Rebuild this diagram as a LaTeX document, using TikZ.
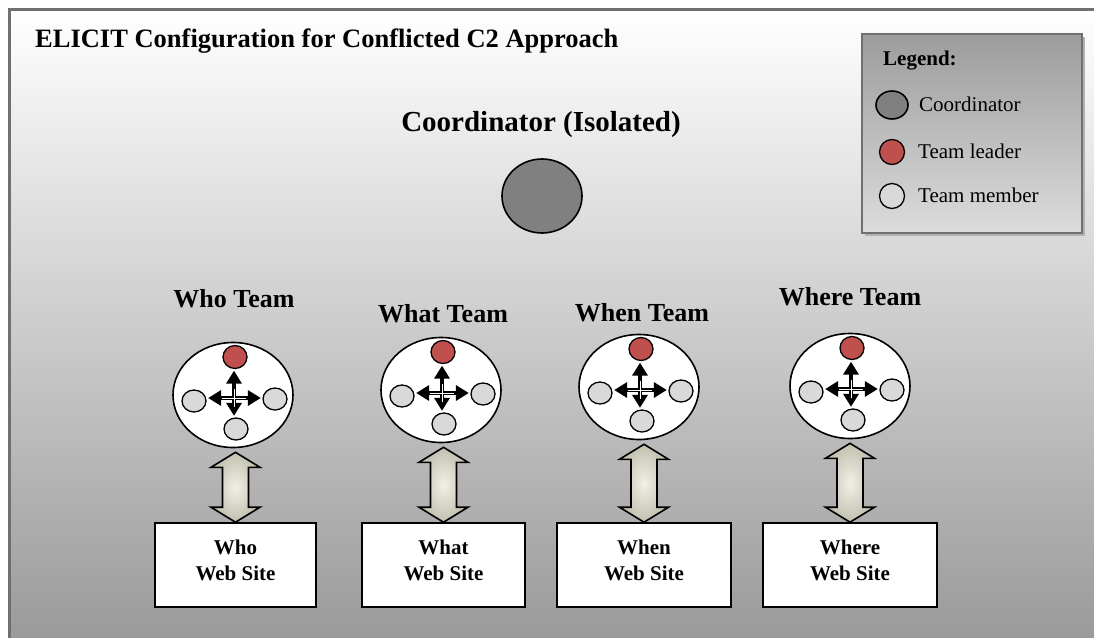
\documentclass[tikz,border=0pt]{standalone}
\usepackage{fontspec}
\setmainfont{Liberation Serif}
\usetikzlibrary{arrows.meta,calc,shapes.geometric,shadows}

\definecolor{framegray}{HTML}{707070}
\definecolor{coordgray}{HTML}{808080}
\definecolor{leaderred}{HTML}{C0504D}
\definecolor{membergray}{HTML}{D9D9D9}
\definecolor{arrowlight}{HTML}{F2F0E6}
\definecolor{arrowdark}{HTML}{C2C0B0}
\definecolor{bgbottom}{HTML}{999999}
\definecolor{legtop}{HTML}{9C9C9C}
\definecolor{legbottom}{HTML}{DCDCDC}

% one team: label, oval with leader and members, link arrow, web site box
% #1 name, #2 label, #3/#4 label x/baseline, #5/#6 oval centre, #7/#8 box left/right, #9 site
\newcommand\teamgroup[9]{%
  \node[teamlabel, anchor=base] (#1label) at (#3,#4) {#2};
  \node[teamoval] (#1oval) at (#5,#6) {};
  \node[leader] (#1lead) at ($(#1oval.center)+(2,-38)$) {};
  \node[member] (#1left) at ($(#1oval.center)+(-39,6)$) {};
  \node[member] (#1right) at ($(#1oval.center)+(42,4)$) {};
  \node[member] (#1bot) at ($(#1oval.center)+(3,34)$) {};
  \coordinate (#1hub) at ($(#1oval.center)+(1,3)$);
  \draw[crossarrow] (#1hub |- #1lead.south) -- (#1hub |- #1bot.north);
  \draw[crossarrow] (#1hub -| #1left.east) -- (#1hub -| #1right.west);
  \draw[crossgap] ($(#1hub)+(0,-9)$) -- ($(#1hub)+(0,9)$);
  \draw[crossgap] ($(#1hub)+(-12,0)$) -- ($(#1hub)+(12,0)$);
  \node[sitebox, minimum width={#8-#7}] (#1box) at ({(#7+#8)/2},565) {};
  \node[sitetext, anchor=north] (#1site) at ($(#1box.north)+(0,18)$) {#9\\Web Site};
  \coordinate (#1tipa) at ($(#1box.north |- #1oval.south)+(0,4)$);
  \coordinate (#1tipb) at (#1box.north);
  \draw[bigarrow] (#1tipa) -- ++(24.5,15) -- ++(-11.5,0)
    -- ($(#1tipb)+(13,-15)$) -- ++(11.5,0) -- (#1tipb)
    -- ++(-24.5,-15) -- ++(11.5,0) -- ($(#1tipa)+(-13,15)$)
    -- ++(-11.5,0) -- cycle;
}

\begin{document}
\begin{tikzpicture}[x=1pt,y=-1pt,
  titletext/.style={font=\fontsize{26.5}{30}\selectfont\bfseries, inner sep=0},
  coordlabel/.style={font=\fontsize{29}{33}\selectfont\bfseries, inner sep=0},
  teamlabel/.style={font=\fontsize{26}{30}\selectfont\bfseries, inner sep=0},
  sitetext/.style={font=\fontsize{21}{26}\selectfont\bfseries, align=center, inner sep=0},
  legtext/.style={font=\fontsize{21}{25}\selectfont, inner sep=0},
  leghead/.style={font=\fontsize{21}{25}\selectfont\bfseries, inner sep=0},
  teamoval/.style={ellipse, draw=black, line width=1.6, fill=white,
    minimum width=120, minimum height=105, inner sep=0},
  coordinator/.style={ellipse, draw=black, line width=1.6, fill=coordgray,
    minimum width=80, minimum height=74, inner sep=0},
  leader/.style={ellipse, draw=black, line width=1.3, fill=leaderred,
    minimum width=24, minimum height=23, inner sep=0},
  member/.style={ellipse, draw=black, line width=1.3, fill=membergray,
    minimum width=24, minimum height=22, inner sep=0},
  crossarrow/.style={line width=3.6, black, shorten <=1.5, shorten >=1.5,
    {Triangle[length=13,width=15]}-{Triangle[length=13,width=15]}},
  crossgap/.style={white, line width=0.8},
  sitebox/.style={rectangle, draw=black, line width=1.6, fill=white,
    minimum height=84, inner sep=0},
  bigarrow/.style={draw=black, line width=1.6, line join=miter,
    inner color=arrowlight, outer color=arrowdark},
  legendbox/.style={rectangle, draw=framegray, line width=2.4,
    top color=legtop, bottom color=legbottom,
    minimum width=220, minimum height=199, inner sep=0,
    drop shadow={shadow xshift=3pt, shadow yshift=-3pt, fill=black!30, opacity=1}},
]
\useasboundingbox (0,0) rectangle (1094,637);

% page and framed panel
\fill[white] (0,0) rectangle (1094,637);
\shade[top color=white, bottom color=bgbottom] (9,9) rectangle (1100,645);
\draw[framegray, line width=3] (9.5,9.5) rectangle (1100,645);

% title and coordinator
\node[titletext, anchor=base west] (title) at (35,47)
  {ELICIT Configuration for Conflicted C2 Approach};
\node[coordlabel, anchor=base] (coordname) at (541,131) {Coordinator (Isolated)};
\node[coordinator] (coord) at (542,196) {};

% legend
\node[legendbox] (legend) at (972,133.5) {};
\node[leghead, anchor=base west] (leghead) at (883,65) {Legend:};
\node[coordinator, minimum width=32, minimum height=28] (legcoord) at (892,105) {};
\node[legtext, anchor=base west] (legcoordtext) at (919,111) {Coordinator};
\node[leader, minimum width=25, minimum height=25] (legleader) at (892,152) {};
\node[legtext, anchor=base west] (legleadertext) at (918,158) {Team leader};
\node[member, minimum width=25, minimum height=25] (legmember) at (892,196) {};
\node[legtext, anchor=base west] (legmembertext) at (918,202) {Team member};

% the four teams
\teamgroup{who}{Who Team}{234}{307}{233}{395}{155}{316}{Who}
\teamgroup{what}{What Team}{443}{322}{441}{390}{362}{525}{What}
\teamgroup{when}{When Team}{642}{321}{639}{387}{557}{731}{When}
\teamgroup{where}{Where Team}{850}{305}{850}{386}{763}{937}{Where}
\end{tikzpicture}
\end{document}
